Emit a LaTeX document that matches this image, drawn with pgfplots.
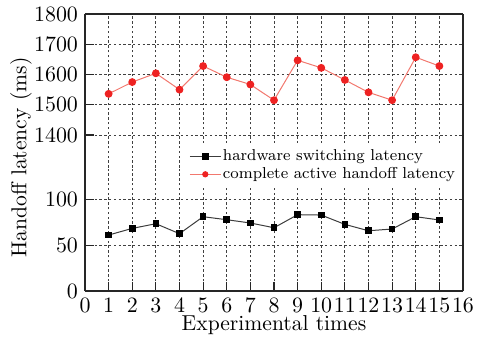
\documentclass[border=0pt]{standalone}
\usepackage{pgfplots}
\pgfplotsset{compat=1.18}
\definecolor{redmark}{RGB}{238,34,34}
\definecolor{redline}{RGB}{242,120,110}
\definecolor{blkline}{RGB}{60,60,60}
\pgfplotstableread{
x y
1 1536
2 1575
3 1604
4 1550
5 1628
6 1591
7 1567
8 1515
9 1647
10 1622
11 1582
12 1541
13 1515
14 1657
15 1628
}\redtab
\pgfplotstableread{
x y
1 61.3
2 68.6
3 73.7
4 62.8
5 81.4
6 78.1
7 74.5
8 69.3
9 83.6
10 83.2
11 73.0
12 66.0
13 67.9
14 81.4
15 77.8
}\blktab
\begin{document}
\begin{tikzpicture}
\pgfplotsset{
  common/.style={
    scale only axis, width=189pt,
    xmin=0, xmax=16, xtick={0,...,16},
    grid=major,
    major grid style={black!75, dash pattern=on 1.2pt off 1.2pt, line width=0.4pt},
    axis line style={line width=0.6pt, black!85},
    tick style={line width=0.6pt, black!85},
    tick align=inside,
    /pgf/number format/1000 sep={},
    tick label style={font=\fontsize{11.3}{13}\selectfont},
    label style={font=\fontsize{10.8}{12}\selectfont},
  }
}
\begin{axis}[common, name=up, at={(0pt,61.75pt)}, anchor=south west,
  height=76.75pt, ymin=1292.6, ymax=1800, ytick={1400,1500,1600,1700,1800},
  axis x line*=top, axis y line*=box, ytick pos=left,
  xticklabels={}, xtick style={draw=none}]
\addplot[draw=redline, line width=0.5pt, mark=*, mark size=1.7pt,
  mark options={solid, draw=redmark, fill=redmark}] table[x=x,y=y] {\redtab};
\end{axis}
\begin{axis}[common, name=low, at={(0pt,0pt)}, anchor=south west,
  height=61.75pt, ymin=0, ymax=135.3, ytick={0,50,100},
  axis x line*=bottom, axis y line*=box, ytick pos=left, xtick pos=bottom,
  xticklabel style={inner xsep=0pt},
  xlabel={Experimental times}, xlabel style={yshift=5pt},
  legend style={at={(0.262,1.016)}, anchor=west, draw=none, fill=white,
    font=\fontsize{7.9}{9}\selectfont, nodes={inner sep=0.9pt}, inner sep=2.5pt,
    cells={anchor=west}},
  legend image code/.code={\draw[mark repeat=2,mark phase=2,#1] plot coordinates {(0cm,0cm)(0.27cm,0cm)(0.54cm,0cm)};}]
\addplot[draw=blkline, line width=0.5pt, mark=square*, mark size=1.4pt,
  mark options={solid, draw=black, fill=black}] table[x=x,y=y] {\blktab};
\addlegendentry{hardware switching latency}
\addlegendimage{draw=redline, line width=0.5pt, mark=*, mark size=1.3pt,
  mark options={solid, draw=redmark, fill=redmark}}
\addlegendentry{complete active handoff latency}
\end{axis}
\node[rotate=90, font=\fontsize{10.8}{12}\selectfont] at (-32pt,66.75pt) {Handoff latency (ms)};
\pgfresetboundingbox
\path (-42.5pt,-24pt) rectangle (197pt,145.5pt);
\end{tikzpicture}
\end{document}
